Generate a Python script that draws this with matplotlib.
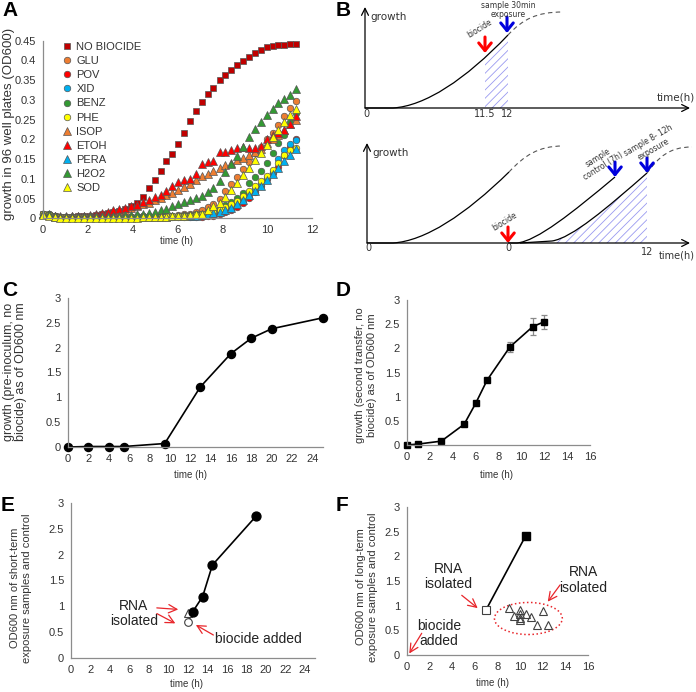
import numpy as np
import matplotlib
matplotlib.use('Agg')
import matplotlib.pyplot as plt
from matplotlib.path import Path
from matplotlib.patches import PathPatch, Rectangle, Ellipse
from matplotlib.ticker import FuncFormatter

plt.rcParams['font.family'] = ['Liberation Sans', 'DejaVu Sans']
plt.rcParams['hatch.linewidth'] = 0.6

# ---------------- Panel A data (OD600 in 96 well plates) ----------------
time_A = [0.00, 0.26, 0.53, 0.79, 1.05, 1.31, 1.58, 1.84, 2.10, 2.36,
          2.63, 2.89, 3.15, 3.41, 3.68, 3.94, 4.20, 4.46, 4.73, 4.99,
          5.25, 5.51, 5.78, 6.04, 6.30, 6.56, 6.83, 7.09, 7.35, 7.61,
          7.88, 8.14, 8.40, 8.66, 8.93, 9.19, 9.45, 9.71, 9.98, 10.24,
          10.50, 10.76, 11.03, 11.29]
no_biocide = [0.010, 0.008, 0.005, 0.004, 0.004, 0.004, 0.005, 0.006, 0.007, 0.009,
              0.011, 0.013, 0.016, 0.019, 0.024, 0.030, 0.040, 0.054, 0.076, 0.097,
              0.120, 0.145, 0.162, 0.188, 0.217, 0.246, 0.272, 0.295, 0.315, 0.329,
              0.350, 0.364, 0.376, 0.388, 0.398, 0.409, 0.420, 0.426, 0.435, 0.437,
              0.438, 0.439, 0.441, 0.441]
glu = [0.010, 0.008, 0.005, 0.004, 0.004, 0.004, 0.004, 0.004, 0.004, 0.004,
       0.004, 0.004, 0.004, 0.004, 0.004, 0.004, 0.005, 0.005, 0.005, 0.005,
       0.005, 0.006, 0.007, 0.008, 0.010, 0.012, 0.016, 0.020, 0.028, 0.037,
       0.050, 0.070, 0.088, 0.105, 0.125, 0.143, 0.165, 0.180, 0.200, 0.215,
       0.236, 0.260, 0.279, 0.297]
pov = [0.012, 0.010, 0.005, 0.003, 0.003, 0.003, 0.003, 0.003, 0.003, 0.003,
       0.003, 0.003, 0.003, 0.003, 0.003, 0.003, 0.003, 0.003, 0.003, 0.003,
       0.003, 0.003, 0.003, 0.003, 0.003, 0.003, 0.004, 0.004, 0.005, 0.007,
       0.010, 0.015, 0.020, 0.029, 0.040, 0.052, 0.066, 0.082, 0.100, 0.115,
       0.130, 0.160, 0.180, 0.200]
xid = [0.011, 0.008, 0.004, 0.003, 0.003, 0.003, 0.003, 0.003, 0.003, 0.003,
       0.003, 0.003, 0.003, 0.003, 0.003, 0.003, 0.003, 0.004, 0.004, 0.004,
       0.004, 0.005, 0.005, 0.006, 0.006, 0.007, 0.008, 0.010, 0.012, 0.015,
       0.019, 0.024, 0.030, 0.039, 0.050, 0.062, 0.075, 0.088, 0.102, 0.118,
       0.150, 0.172, 0.188, 0.198]
benz = [0.012, 0.010, 0.006, 0.004, 0.004, 0.004, 0.004, 0.004, 0.004, 0.004,
        0.004, 0.004, 0.004, 0.004, 0.004, 0.004, 0.004, 0.005, 0.005, 0.005,
        0.005, 0.006, 0.006, 0.007, 0.008, 0.009, 0.010, 0.012, 0.016, 0.020,
        0.026, 0.033, 0.042, 0.052, 0.065, 0.090, 0.105, 0.120, 0.140, 0.165,
        0.190, 0.212, 0.245, 0.266]
phe = [0.010, 0.008, 0.004, 0.003, 0.003, 0.003, 0.003, 0.003, 0.003, 0.003,
       0.003, 0.003, 0.003, 0.003, 0.003, 0.003, 0.003, 0.004, 0.004, 0.004,
       0.004, 0.005, 0.005, 0.006, 0.006, 0.007, 0.008, 0.010, 0.013, 0.017,
       0.022, 0.028, 0.035, 0.045, 0.057, 0.070, 0.082, 0.095, 0.108, 0.122,
       0.140, 0.160, 0.172, 0.177]
isop = [0.010, 0.008, 0.005, 0.004, 0.004, 0.005, 0.005, 0.006, 0.007, 0.009,
        0.011, 0.013, 0.016, 0.019, 0.022, 0.026, 0.030, 0.035, 0.040, 0.047,
        0.052, 0.058, 0.064, 0.072, 0.080, 0.088, 0.097, 0.106, 0.113, 0.120,
        0.128, 0.134, 0.140, 0.147, 0.153, 0.160, 0.167, 0.175, 0.190, 0.200,
        0.212, 0.225, 0.238, 0.250]
etoh = [0.010, 0.008, 0.005, 0.005, 0.005, 0.005, 0.006, 0.007, 0.009, 0.011,
        0.014, 0.017, 0.021, 0.024, 0.027, 0.031, 0.034, 0.042, 0.046, 0.055,
        0.058, 0.068, 0.081, 0.092, 0.097, 0.100, 0.113, 0.138, 0.142, 0.144,
        0.168, 0.169, 0.172, 0.177, 0.180, 0.179, 0.178, 0.182, 0.200, 0.212,
        0.217, 0.225, 0.240, 0.260]
pera = [0.010, 0.008, 0.004, 0.003, 0.003, 0.003, 0.003, 0.003, 0.003, 0.003,
        0.003, 0.003, 0.003, 0.003, 0.003, 0.003, 0.003, 0.003, 0.004, 0.004,
        0.004, 0.004, 0.005, 0.005, 0.006, 0.006, 0.007, 0.008, 0.010, 0.013,
        0.016, 0.021, 0.027, 0.036, 0.047, 0.058, 0.070, 0.083, 0.097, 0.112,
        0.128, 0.145, 0.160, 0.175]
h2o2 = [0.012, 0.010, 0.006, 0.004, 0.004, 0.004, 0.004, 0.004, 0.005, 0.005,
        0.005, 0.006, 0.006, 0.007, 0.008, 0.009, 0.010, 0.012, 0.013, 0.015,
        0.020, 0.024, 0.030, 0.036, 0.041, 0.046, 0.052, 0.056, 0.066, 0.078,
        0.095, 0.118, 0.138, 0.158, 0.180, 0.205, 0.226, 0.245, 0.262, 0.277,
        0.291, 0.303, 0.312, 0.327]
sod = [0.008, 0.006, 0.003, 0.002, 0.002, 0.002, 0.002, 0.002, 0.002, 0.002,
       0.002, 0.002, 0.002, 0.002, 0.002, 0.002, 0.002, 0.003, 0.003, 0.003,
       0.003, 0.004, 0.005, 0.006, 0.007, 0.008, 0.010, 0.012, 0.020, 0.030,
       0.040, 0.055, 0.072, 0.090, 0.110, 0.128, 0.148, 0.165, 0.185, 0.205,
       0.225, 0.245, 0.263, 0.276]
labels_A = ["NO BIOCIDE", "GLU", "POV", "XID", "BENZ", "PHE", "ISOP", "ETOH", "PERA", "H2O2", "SOD"]

# ---------------- Panel C data ----------------
time_C = [0, 2, 4, 5.5, 9.5, 13, 16, 18, 20, 25]
od_C = [0.0, 0.01, 0.01, 0.01, 0.07, 1.21, 1.88, 2.19, 2.38, 2.60]

# ---------------- Panel D data ----------------
time_D = [0, 1, 3, 5, 6, 7, 9, 11, 12]
od_D = [0.0, 0.02, 0.08, 0.43, 0.86, 1.34, 2.03, 2.45, 2.55]
err_D = [0.01, 0.02, 0.02, 0.03, 0.04, 0.04, 0.11, 0.17, 0.15]

# ---------------- Panel E data ----------------
time_E = [12, 12.5, 13.5, 14.5, 19]
od_E = [0.70, 0.90, 1.19, 1.80, 2.75]
time_E_exp = [12]
od_E_exp = [0.88]

# ---------------- Panel F data ----------------
time_F = [7, 10.5]
od_F = [0.92, 2.42]
time_F_exp = [9, 9.5, 10, 10, 10, 10, 10.5, 11, 11.5, 12, 12.5]
od_F_exp = [0.95, 0.80, 0.92, 0.84, 0.76, 0.70, 0.83, 0.78, 0.61, 0.90, 0.61]

# ---------------- Panel B schematic curves (arbitrary units) ----------------
B_top_curve = [(0, 0), (28, 0), (60, 2), (100, 28), (143, 73)]
B_top_dash = [(143, 73), (158, 89), (172, 96), (198, 96)]
B_low_curve1 = [(0, 0), (26, 0), (58, 2), (98, 28), (142, 71)]
B_low_dash1 = [(142, 71), (157, 87), (171, 97), (196, 97)]
B_low_curve2 = [(141, 0), (150, 0), (170, 2), (205, 30), (248, 66)]
B_low_curve3 = [(153, 0), (185, 2), (205, 5), (240, 35), (280, 70)]
B_low_dash3 = [(280, 70), (292, 86), (302, 96), (325, 96)]

W, H = 696, 692
fig = plt.figure(figsize=(W / 100, H / 100), dpi=100)


def ax_px(x0, y0, x1, y1):
    return fig.add_axes([x0 / W, 1 - y1 / H, (x1 - x0) / W, (y1 - y0) / H])


def ftext(x, y, s, **kw):
    return fig.text(x / W, 1 - y / H, s, **kw)


AX_COL = '#8c8c8c'
TXT_COL = '#333333'
fmt = FuncFormatter(lambda v, _: f"{round(v, 2):g}")


def style_excel(ax, xlim, ylim, xticks, yticks, size=8):
    ax.set_xlim(*xlim)
    ax.set_ylim(*ylim)
    for s in ('top', 'right'):
        ax.spines[s].set_visible(False)
    for s in ('left', 'bottom'):
        ax.spines[s].set_color(AX_COL)
        ax.spines[s].set_linewidth(0.9)
    ax.set_xticks(xticks)
    ax.set_yticks(yticks)
    ax.tick_params(length=0, labelsize=size, colors=TXT_COL, pad=5)
    ax.xaxis.set_major_formatter(fmt)
    ax.yaxis.set_major_formatter(fmt)
    ax.patch.set_alpha(0)


# ================= Panel A =================
axA = ax_px(42.7, 40.7, 312, 218.3)
style_excel(axA, (0, 12), (0, 0.45), range(0, 13, 2), np.arange(0, 0.46, 0.05))
series_A = [no_biocide, glu, pov, xid, benz, phe, isop, etoh, pera, h2o2, sod]
markers_A = ['s', 'o', 'o', 'o', 'o', 'o', '^', '^', '^', '^', '^']
colors_A = ['#C00000', '#ED7D31', '#FF0000', '#00B0F0', '#339933', '#FFFF00',
            '#ED7D31', '#FF0000', '#00B0F0', '#339933', '#FFFF00']
for name, vals, mk, col in zip(labels_A, series_A, markers_A, colors_A):
    axA.plot(time_A, vals, ls='none', marker=mk, ms=(5.3 if mk == '^' else 4.7),
             mfc=col, mec='#555555', mew=0.5, label=name, clip_on=False)
leg = axA.legend(loc='upper left', bbox_to_anchor=(63 / W, 1 - 42 / H),
                 bbox_transform=fig.transFigure, frameon=False, fontsize=8,
                 handlelength=0.8, handletextpad=0.4, labelspacing=0.37,
                 borderpad=0, borderaxespad=0)
for t in leg.get_texts():
    t.set_color(TXT_COL)
ftext(9, 124, 'growth in 96 well plates (OD600)', rotation=90, ha='center',
      va='center', fontsize=9.5, color=TXT_COL)
ftext(177, 241, 'time (h)', ha='center', va='center', fontsize=7, color=TXT_COL)

# ================= Panel B =================
BFONT = ['DejaVu Sans']
BCOL = '#333333'


def bez_path(pts, close_to_axis=False):
    codes = [Path.MOVETO] + [Path.LINETO] * (len(pts) - 4) + [Path.CURVE4] * 3
    verts = list(pts)
    if close_to_axis:
        verts += [(pts[-1][0], 0), (pts[0][0], 0)]
        codes += [Path.LINETO, Path.CLOSEPOLY]
    return Path(verts, codes)


def draw_curve(ax, pts, dashed=False):
    ax.add_patch(PathPatch(bez_path(pts), fill=False, lw=(0.8 if dashed else 0.9),
                           ec=('#555555' if dashed else 'black'),
                           ls=((0, (4, 3)) if dashed else '-')))


def hatch_under(ax, pts, x0, x1):
    clip = PathPatch(bez_path(pts, True), fc='none', ec='none', lw=0)
    ax.add_patch(clip)
    r = Rectangle((x0, 0), x1 - x0, 110, hatch='////', fill=False,
                  ec='#9a9af0', lw=0)
    ax.add_patch(r)
    r.set_clip_path(clip)


def sch_arrow(ax, x, y0, y1, col):
    ax.annotate('', xy=(x, y1), xytext=(x, y0),
                arrowprops=dict(arrowstyle='->,head_length=0.55,head_width=0.45',
                                lw=2.2, color=col, shrinkA=0, shrinkB=0))


def axis_arrow(ax, x1, y1):
    ax.annotate('', xy=(x1, y1), xytext=(0, 0),
                arrowprops=dict(arrowstyle='->,head_length=0.5,head_width=0.25',
                                lw=0.9, color='black', shrinkA=0, shrinkB=0))


axB1 = ax_px(355, 0, 696, 125)
axB1.set_xlim(-10, 331)
axB1.set_ylim(-17, 108)
axB1.axis('off')
hatch_under(axB1, B_top_curve, 120, 143)
draw_curve(axB1, B_top_curve)
draw_curve(axB1, B_top_dash, dashed=True)
axis_arrow(axB1, 0, 101)
axis_arrow(axB1, 325, 0)
sch_arrow(axB1, 120, 71, 55, '#ff0000')
sch_arrow(axB1, 142, 91, 75, '#0000dd')
axB1.text(5, 91, 'growth', fontsize=7.5, family=BFONT, color=BCOL, va='center')
axB1.text(292, 11, 'time(h)', fontsize=7.5, family=BFONT, color=BCOL, va='center')
axB1.text(1, -6, '0', fontsize=7, family=BFONT, color=BCOL, ha='center', va='center')
axB1.text(120, -6, '11.5', fontsize=7, family=BFONT, color=BCOL, ha='center', va='center')
axB1.text(142.5, -6, '12', fontsize=7, family=BFONT, color=BCOL, ha='center', va='center')
axB1.text(115, 79, 'biocide', fontsize=5.5, family=BFONT, color=BCOL, rotation=32,
          ha='center', va='center')
axB1.text(143, 98, 'sample 30min\nexposure', fontsize=5.5, family=BFONT, color=BCOL,
          ha='center', va='center', linespacing=1.1)

axB2 = ax_px(355, 130, 696, 262)
axB2.set_xlim(-12, 329)
axB2.set_ylim(-19, 113)
axB2.axis('off')
hatch_under(axB2, B_low_curve3, 188, 280)
draw_curve(axB2, B_low_curve1)
draw_curve(axB2, B_low_dash1, dashed=True)
draw_curve(axB2, B_low_curve2)
draw_curve(axB2, B_low_curve3)
draw_curve(axB2, B_low_dash3, dashed=True)
axis_arrow(axB2, 0, 100)
axis_arrow(axB2, 323, 0)
sch_arrow(axB2, 141, 16, 0, '#ff0000')
sch_arrow(axB2, 248, 81, 66, '#0000dd')
sch_arrow(axB2, 280, 85, 70, '#0000dd')
axB2.text(5, 90, 'growth', fontsize=7.5, family=BFONT, color=BCOL, va='center')
axB2.text(1, -5, '0', fontsize=7, family=BFONT, color=BCOL, ha='center', va='center')
axB2.text(141, -5, '0', fontsize=7, family=BFONT, color=BCOL, ha='center', va='center')
axB2.text(280, -9, '12', fontsize=7, family=BFONT, color=BCOL, ha='center', va='center')
axB2.text(327.5, -12, 'time(h)', fontsize=7, family=BFONT, color=BCOL, ha='right', va='center')
axB2.text(138, 21, 'biocide', fontsize=5.5, family=BFONT, color=BCOL, rotation=32,
          ha='center', va='center')
axB2.text(234, 81, 'sample\ncontrol (7h)', fontsize=5.5, family=BFONT, color=BCOL,
          rotation=32, ha='center', va='center', multialignment='center', linespacing=1.1)
axB2.text(284, 98, 'sample 8- 12h\nexposure', fontsize=5.5, family=BFONT, color=BCOL,
          rotation=30, ha='center', va='center', multialignment='center', linespacing=1.1)

# ================= Panel C =================
axC = ax_px(68, 298, 322.5, 447)
style_excel(axC, (0, 25), (0, 3), range(0, 25, 2), np.arange(0, 3.01, 0.5))
axC.plot(time_C, od_C, '-o', color='black', lw=1.2, ms=5.8, clip_on=False)
ftext(15, 372, 'growth (pre-inoculum, no\nbiocide) as of OD600 nm', rotation=90,
      ha='center', va='center', fontsize=9, color=TXT_COL, linespacing=1.05)
ftext(190, 475, 'time (h)', ha='center', va='center', fontsize=7, color=TXT_COL)

# ================= Panel D =================
axD = ax_px(407, 300, 590, 445)
style_excel(axD, (0, 16), (0, 3), range(0, 17, 2), np.arange(0, 3.01, 0.5))
axD.errorbar(time_D, od_D, yerr=err_D, fmt='-s', color='black', lw=1.2, ms=5,
             ecolor='#8a8a8a', elinewidth=0.9, capsize=2.2, capthick=0.9, clip_on=False)
ftext(366, 375, 'growth (second transfer, no\nbiocide) as of OD600 nm', rotation=90,
      ha='center', va='center', fontsize=8, color=TXT_COL, linespacing=1.15)
ftext(497, 475, 'time (h)', ha='center', va='center', fontsize=7, color=TXT_COL)

# ================= Panel E =================
RED = '#e8262b'
arrow_kw = dict(arrowstyle='->,head_length=0.6,head_width=0.3', lw=0.9, color=RED,
                shrinkA=0, shrinkB=0)
axE = ax_px(71, 503, 314.8, 658)
style_excel(axE, (0, 25), (0, 3), range(0, 25, 2), np.arange(0, 3.01, 0.5))
axE.plot(time_E, od_E, '-', color='black', lw=1.2)
axE.plot(time_E_exp, od_E_exp, ls='none', marker='^', ms=5.5, mfc='white', mec='#404040', mew=0.8)
axE.plot(time_E[:1], od_E[:1], ls='none', marker='o', ms=5.5, mfc='white', mec='#404040', mew=0.8)
axE.plot(time_E[1:], od_E[1:], ls='none', marker='o', ms=6.4, color='black')
axE.text(6.45, 0.87, 'RNA\nisolated', ha='center', va='center', fontsize=10,
         color='#222222', linespacing=1.1)
axE.annotate('', xy=(11.0, 0.94), xytext=(8.8, 0.97), arrowprops=arrow_kw)
axE.annotate('', xy=(10.7, 0.67), xytext=(8.8, 0.86), arrowprops=arrow_kw)
axE.annotate('', xy=(12.8, 0.64), xytext=(14.6, 0.445), arrowprops=arrow_kw)
axE.text(14.8, 0.37, 'biocide added', ha='left', va='center', fontsize=10, color='#222222')
ftext(21, 588, 'OD600 nm of short-term\nexposure samples and control', rotation=90,
      ha='center', va='center', fontsize=8, color=TXT_COL, linespacing=1.15)
ftext(187, 684, 'time (h)', ha='center', va='center', fontsize=7, color=TXT_COL)

# ================= Panel F =================
axF = ax_px(407, 507, 588, 655)
style_excel(axF, (0, 16), (0, 3), range(0, 17, 2), np.arange(0, 3.01, 0.5))
axF.plot(time_F, od_F, '-', color='black', lw=1.2)
axF.plot(time_F[:1], od_F[:1], ls='none', marker='s', ms=5.5, mfc='white', mec='#404040', mew=0.8)
axF.plot(time_F[1:], od_F[1:], ls='none', marker='s', ms=5.5, color='black')
axF.plot(time_F_exp, od_F_exp, ls='none', marker='^', ms=5.5, mfc='none', mec='#404040', mew=0.8)
axF.add_patch(Ellipse((10.73, 0.74), 6.0, 0.65, fill=False, ec=RED, lw=1.1, ls=':'))
axF.text(3.65, 1.585, 'RNA\nisolated', ha='center', va='center', fontsize=10,
         color='#222222', linespacing=1.1)
axF.annotate('', xy=(6.25, 0.95), xytext=(4.84, 1.21), arrowprops=arrow_kw)
axF.text(15.56, 1.52, 'RNA\nisolated', ha='center', va='center', fontsize=10,
         color='#222222', linespacing=1.1)
axF.annotate('', xy=(12.44, 1.08), xytext=(13.53, 1.42), arrowprops=arrow_kw)
axF.text(2.83, 0.44, 'biocide\nadded', ha='center', va='center', fontsize=10,
         color='#222222', linespacing=1.1)
axF.annotate('', xy=(0.2, 0.03), xytext=(1.3, 0.44), arrowprops=arrow_kw,
             annotation_clip=False)
ftext(367, 587, 'OD600 nm of long-term\nexposure samples and control', rotation=90,
      ha='center', va='center', fontsize=8, color=TXT_COL, linespacing=1.15)
ftext(493, 683, 'time (h)', ha='center', va='center', fontsize=7, color=TXT_COL)

# ================= Panel letters =================
for lab, x, y in [('A', 2, 1), ('B', 336, 1), ('C', 2, 281), ('D', 336, 281),
                  ('E', 1, 496), ('F', 336, 496)]:
    ftext(x, y, lab, fontsize=15, fontweight='bold', va='top', ha='left', color='black')

fig.savefig('out.png', dpi=100)
